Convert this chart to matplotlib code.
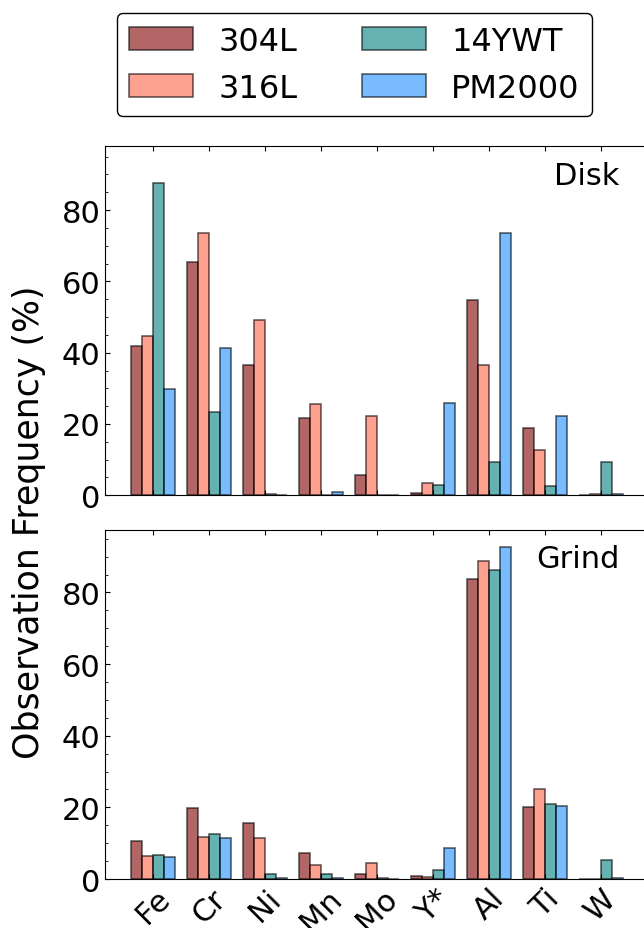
import numpy as np
import matplotlib
matplotlib.use('Agg')
import matplotlib.pyplot as plt
from matplotlib.ticker import MultipleLocator

# elemente und legierungen
elements = ['Fe', 'Cr', 'Ni', 'Mn', 'Mo', 'Y*', 'Al', 'Ti', 'W']
alloys = ['304L', '316L', '14YWT', 'PM2000']
colors = ['maroon', 'tomato', 'teal', 'dodgerblue']

# beobachtungshaeufigkeit (%) - Disk
disk_304L = [42.0, 65.4, 36.5, 21.6, 5.7, 0.6, 54.9, 18.8, 0.1]
disk_316L = [44.6, 73.5, 49.3, 25.6, 22.2, 3.4, 36.5, 12.7, 0.3]
disk_14YWT = [87.5, 23.5, 0.3, 0.0, 0.2, 2.9, 9.2, 2.6, 9.2]
disk_PM2000 = [29.9, 41.3, 0.1, 0.9, 0.2, 25.9, 73.6, 22.3, 0.3]

# beobachtungshaeufigkeit (%) - Grind
grind_304L = [10.7, 19.7, 15.7, 7.4, 1.3, 0.9, 83.7, 20.1, 0.1]
grind_316L = [6.5, 11.8, 11.5, 4.0, 4.5, 0.7, 88.8, 25.0, 0.1]
grind_14YWT = [6.8, 12.6, 1.4, 1.4, 0.2, 2.5, 86.3, 21.0, 5.2]
grind_PM2000 = [6.1, 11.5, 0.2, 0.3, 0.1, 8.8, 92.7, 20.3, 0.3]

disk = [disk_304L, disk_316L, disk_14YWT, disk_PM2000]
grind = [grind_304L, grind_316L, grind_14YWT, grind_PM2000]

fs = 22
fig = plt.figure(figsize=(6.44, 9.29), dpi=100)
ax1 = fig.add_axes([0.1638, 0.4658, 0.8433, 0.3760])
ax2 = fig.add_axes([0.1638, 0.0527, 0.8433, 0.3760])

x = np.arange(len(elements))
w = 0.2
for ax, data, name, ymax in [(ax1, disk, 'Disk', 98), (ax2, grind, 'Grind', 97.5)]:
    for i in range(4):
        ax.bar(x + (i - 1.5) * w, data[i], w, color=colors[i], alpha=0.6,
               edgecolor='k', linewidth=1.2, label=alloys[i])
    ax.set_xlim(-0.85, 8.85)
    ax.set_ylim(0, ymax)
    ax.set_xticks(x)
    ax.yaxis.set_major_locator(MultipleLocator(20))
    ax.yaxis.set_minor_locator(MultipleLocator(5))
    ax.tick_params(which='both', direction='in', top=True, right=True, labelsize=fs)
    ax.tick_params(axis='x', which='minor', top=False, bottom=False)
    ax.text(0.947, 0.958, name, transform=ax.transAxes, ha='right', va='top', fontsize=22)

ax1.set_xticklabels([])
ax2.set_xticklabels(elements, rotation=45, ha='center')
ax2.tick_params(axis='x', pad=3)

fig.text(0.045, 0.4376, 'Observation Frequency (%)', rotation=90,
         ha='center', va='center', fontsize=25)

h, l = ax1.get_legend_handles_labels()
fig.legend(h, l, loc='upper center', bbox_to_anchor=(0.5505, 0.985), ncol=2,
           fontsize=23, borderaxespad=0, edgecolor='k', framealpha=1)

fig.savefig('out.png', dpi=100)
